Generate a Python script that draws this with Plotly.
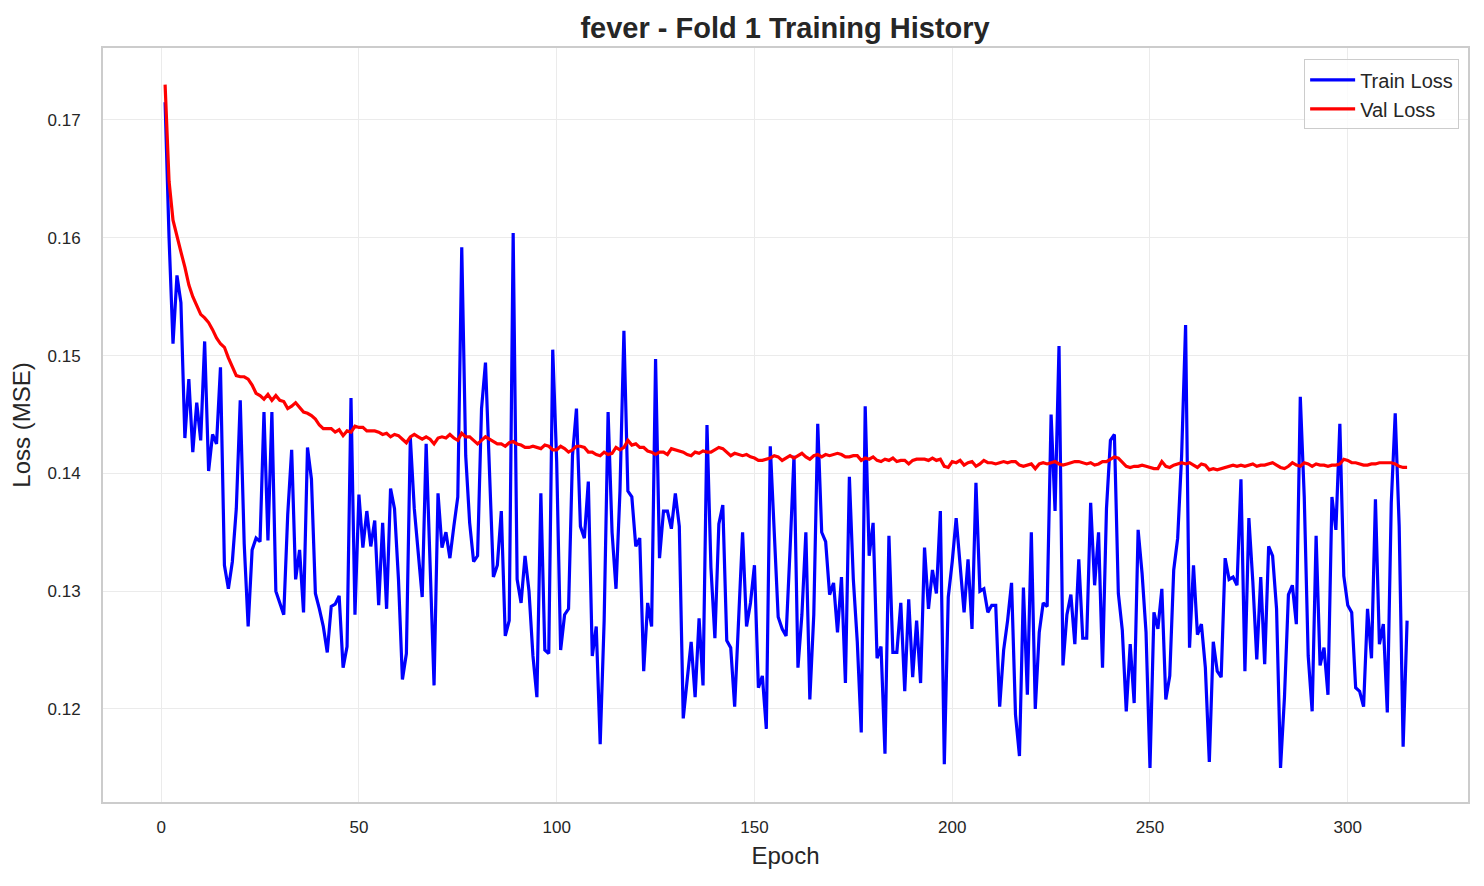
import plotly.graph_objects as go

train_loss = [
    0.1715, 0.160, 0.151, 0.1568, 0.1545, 0.143, 0.148, 0.1418, 0.146, 0.1428,
    0.1512, 0.1402, 0.1433, 0.1425, 0.149, 0.1322, 0.1302, 0.1325, 0.137, 0.1462,
    0.134, 0.127, 0.1335, 0.1345, 0.1342, 0.1452, 0.1343, 0.1452, 0.130, 0.129,
    0.128, 0.1365, 0.142, 0.131, 0.1335, 0.1282, 0.1422, 0.1395, 0.1298, 0.1285,
    0.127, 0.1248, 0.1287, 0.1289, 0.1296, 0.1235, 0.1253, 0.1464, 0.128, 0.1382,
    0.1337, 0.1368, 0.1338, 0.136, 0.1288, 0.1358, 0.1285, 0.1387, 0.1370, 0.131,
    0.1225, 0.1247, 0.143, 0.137, 0.1335, 0.1295, 0.1425, 0.132, 0.122, 0.1383,
    0.1337, 0.135, 0.1328, 0.1355, 0.138, 0.1592, 0.1415, 0.1358, 0.1325, 0.133,
    0.1455, 0.1494, 0.1395, 0.1312, 0.1322, 0.1368, 0.1262, 0.1275, 0.1604, 0.131,
    0.129, 0.133, 0.130, 0.1245, 0.121, 0.1383, 0.125, 0.1247, 0.1505, 0.141,
    0.125, 0.128, 0.1285, 0.1415, 0.1455, 0.1355, 0.1345, 0.1393, 0.1245, 0.127,
    0.117, 0.1275, 0.1452, 0.135, 0.1302, 0.1385, 0.1521, 0.1385, 0.138, 0.1338,
    0.1345, 0.1232, 0.129, 0.127, 0.1497, 0.1328, 0.1368, 0.1368, 0.1353, 0.1383,
    0.1355, 0.1192, 0.1225, 0.1257, 0.121, 0.1277, 0.122, 0.1441, 0.132, 0.126,
    0.1357, 0.1373, 0.1258, 0.1252, 0.1202, 0.128, 0.135, 0.127, 0.129, 0.1322,
    0.1218, 0.1228, 0.1183, 0.1423, 0.135, 0.1278, 0.1268, 0.1262, 0.1335, 0.1415,
    0.1235, 0.128, 0.135, 0.1208, 0.128, 0.1442, 0.135, 0.1342, 0.1297, 0.1307,
    0.1265, 0.1312, 0.1222, 0.1397, 0.131, 0.1257, 0.118, 0.1457, 0.133, 0.1358,
    0.1243, 0.1253, 0.1162, 0.1347, 0.1248, 0.1248, 0.129, 0.1215, 0.1293, 0.1227,
    0.1275, 0.1222, 0.1337, 0.1285, 0.1318, 0.1298, 0.1368, 0.1153, 0.1295, 0.1325,
    0.1362, 0.1325, 0.1282, 0.1327, 0.1268, 0.1392, 0.130, 0.1302, 0.1282, 0.1288,
    0.1288, 0.1202, 0.125, 0.1275, 0.1307, 0.1195, 0.116, 0.1303, 0.1212, 0.135,
    0.120, 0.1265, 0.129, 0.1287, 0.145, 0.1368, 0.1508, 0.1237, 0.128, 0.1297,
    0.1255, 0.1327, 0.126, 0.126, 0.1375, 0.1305, 0.135, 0.1235, 0.137, 0.1428,
    0.1433, 0.1298, 0.1267, 0.1198, 0.1255, 0.1205, 0.1352, 0.1315, 0.1265, 0.115,
    0.1282, 0.1268, 0.1302, 0.1208, 0.1228, 0.1318, 0.1345, 0.1415, 0.1526, 0.1252,
    0.1322, 0.1263, 0.1272, 0.1235, 0.1155, 0.1257, 0.1232, 0.1227, 0.1328, 0.131,
    0.1312, 0.1305, 0.1395, 0.1232, 0.1362, 0.1308, 0.1242, 0.1312, 0.1238, 0.1338,
    0.133, 0.1285, 0.115, 0.121, 0.1297, 0.1305, 0.1272, 0.1465, 0.138, 0.1245,
    0.1198, 0.1347, 0.1237, 0.1252, 0.1212, 0.138, 0.1352, 0.1442, 0.1313, 0.1288,
    0.1282, 0.1218, 0.1215, 0.1202, 0.1285, 0.1243, 0.1378, 0.1255, 0.1272, 0.1197,
    0.1375, 0.1451, 0.1355, 0.1168, 0.1275,
]

val_loss = [
    0.1730, 0.1648, 0.1615, 0.1600, 0.1588, 0.1575, 0.1560, 0.1550, 0.1542, 0.1535,
    0.1532, 0.1528, 0.1522, 0.1515, 0.1510, 0.1507, 0.1498, 0.1490, 0.1483, 0.1482,
    0.1482, 0.1480, 0.1475, 0.1468, 0.1466, 0.1463, 0.1467, 0.1462, 0.1466, 0.1462,
    0.1461, 0.1455, 0.1457, 0.1460, 0.1456, 0.1452, 0.1451, 0.1449, 0.1446, 0.1441,
    0.1438, 0.1438, 0.1438, 0.1435, 0.1437, 0.1432, 0.1436, 0.1435, 0.1440, 0.1439,
    0.1439, 0.1436, 0.1436, 0.1436, 0.1435, 0.1433, 0.1434, 0.1431, 0.1433, 0.1432,
    0.1429, 0.1426, 0.1431, 0.1433, 0.1431, 0.1429, 0.1431, 0.1429, 0.1425, 0.1430,
    0.1431, 0.1430, 0.1433, 0.1430, 0.1428, 0.1434, 0.1431, 0.1431, 0.1428, 0.1425,
    0.1428, 0.1431, 0.1429, 0.1427, 0.1425, 0.1425, 0.1423, 0.1426, 0.1427, 0.1425,
    0.1424, 0.1422, 0.1422, 0.1423, 0.1422, 0.1421, 0.1424, 0.1423, 0.1420, 0.1420,
    0.1423, 0.1421, 0.1418, 0.1420, 0.1423, 0.1423, 0.1422, 0.1418, 0.1418, 0.1416,
    0.1415, 0.1418, 0.1416, 0.1417, 0.1422, 0.1420, 0.1422, 0.1428, 0.1424, 0.1425,
    0.1422, 0.1422, 0.1419, 0.1418, 0.1416, 0.1418, 0.1418, 0.1416, 0.1421, 0.1420,
    0.1419, 0.1418, 0.1416, 0.1415, 0.1418, 0.1417, 0.1419, 0.1418, 0.1418, 0.1420,
    0.1422, 0.1421, 0.1418, 0.1415, 0.1417, 0.1416, 0.1415, 0.1416, 0.1414, 0.1413,
    0.1411, 0.1411, 0.1412, 0.1413, 0.1415, 0.1414, 0.1411, 0.1413, 0.1415, 0.1413,
    0.1415, 0.1417, 0.1414, 0.1412, 0.1415, 0.1416, 0.1414, 0.1416, 0.1415, 0.1416,
    0.1417, 0.1416, 0.1414, 0.1414, 0.1415, 0.1415, 0.1411, 0.1413, 0.1412, 0.1414,
    0.1411, 0.1410, 0.1412, 0.1411, 0.1413, 0.1410, 0.1411, 0.1411, 0.1408, 0.1411,
    0.1412, 0.1412, 0.1412, 0.1411, 0.1413, 0.1411, 0.1412, 0.1406, 0.1405, 0.1410,
    0.1409, 0.1411, 0.1407, 0.1409, 0.1410, 0.1406, 0.1408, 0.1411, 0.1409, 0.1409,
    0.1408, 0.1409, 0.1410, 0.1409, 0.1410, 0.1410, 0.1407, 0.1406, 0.1407, 0.1408,
    0.1404, 0.1408, 0.1409, 0.1408, 0.1409, 0.1410, 0.1408, 0.1407, 0.1408, 0.1409,
    0.1410, 0.1410, 0.1409, 0.1408, 0.1409, 0.1407, 0.1408, 0.1410, 0.1410, 0.1412,
    0.1414, 0.1413, 0.1409, 0.1406, 0.1405, 0.1406, 0.1406, 0.1407, 0.1406, 0.1405,
    0.1404, 0.1404, 0.1410, 0.1406, 0.1405, 0.1407, 0.1408, 0.1409, 0.1408, 0.1409,
    0.1407, 0.1405, 0.1408, 0.1407, 0.1403, 0.1404, 0.1403, 0.1404, 0.1405, 0.1406,
    0.1407, 0.1406, 0.1407, 0.1406, 0.1407, 0.1408, 0.1406, 0.1407, 0.1407, 0.1408,
    0.1409, 0.1407, 0.1405, 0.1404, 0.1406, 0.1409, 0.1407, 0.1406, 0.1409, 0.1408,
    0.1406, 0.1408, 0.1407, 0.1407, 0.1406, 0.1407, 0.1407, 0.1408, 0.1412, 0.1411,
    0.1409, 0.1409, 0.1408, 0.1407, 0.1407, 0.1408, 0.1408, 0.1409, 0.1409, 0.1409,
    0.1409, 0.1408, 0.1406, 0.1405, 0.1405,
]

epochs = list(range(1, len(train_loss) + 1))

x_ticks = [0, 50, 100, 150, 200, 250, 300]
y_ticks = [0.12, 0.13, 0.14, 0.15, 0.16, 0.17]

FONT = "Liberation Sans, Arial, sans-serif"
TXT = "#262626"

fig = go.Figure()
fig.add_trace(go.Scatter(x=epochs, y=train_loss, mode="lines", name="Train Loss",
                         legendgroup="a", line=dict(color="#0000ff", width=3.2)))
fig.add_trace(go.Scatter(x=epochs, y=val_loss, mode="lines", name="Val Loss",
                         legendgroup="b", line=dict(color="#ff0000", width=3.2)))

axis_common = dict(
    showline=True, linecolor="#cccccc", linewidth=2, mirror=True,
    showgrid=True, gridcolor="#ebebeb", gridwidth=1, zeroline=False,
    ticks="", tickfont=dict(family=FONT, size=17, color=TXT),
)

fig.update_layout(
    width=1484, height=886,
    paper_bgcolor="white", plot_bgcolor="white",
    margin=dict(l=103, r=16, t=48, b=84),
    title=dict(text="<b>fever - Fold 1 Training History</b>", x=0.529, xanchor="center",
               y=0.969, yanchor="middle",
               font=dict(family=FONT, size=29, color=TXT)),
    xaxis=dict(range=[-14.7, 330.4], tickvals=x_ticks, ticktext=[str(t) for t in x_ticks],
               ticklabelstandoff=9,
               title=dict(text="Epoch", font=dict(family=FONT, size=24, color=TXT),
                          standoff=11),
               **axis_common),
    yaxis=dict(range=[0.1121, 0.17611], tickvals=y_ticks, ticktext=[f"{t:.2f}" for t in y_ticks],
               ticklabelstandoff=17,
               title=dict(text="Loss (MSE)", font=dict(family=FONT, size=24, color=TXT),
                          standoff=10),
               **axis_common),
    legend=dict(x=0.9935, y=0.985, xanchor="right", yanchor="top",
                bgcolor="rgba(255,255,255,0.8)", bordercolor="#cccccc", borderwidth=1,
                itemwidth=45, tracegroupgap=0,
                font=dict(family=FONT, size=20, color=TXT)),
    showlegend=True,
)

fig.write_html("out.html")
